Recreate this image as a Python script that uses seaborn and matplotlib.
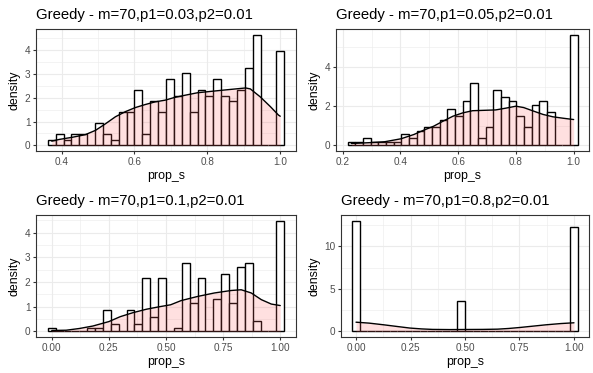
import numpy as np
import pandas as pd
import matplotlib
matplotlib.use("Agg")
import matplotlib.pyplot as plt
import seaborn as sns
from matplotlib.ticker import FixedLocator, MultipleLocator

sns.set_theme(style="white")
plt.rcParams['font.family'] = ['Liberation Sans', 'DejaVu Sans']

# ---------------- data ----------------
titles = ["Greedy - m=70,p1=0.03,p2=0.01", "Greedy - m=70,p1=0.05,p2=0.01",
          "Greedy - m=70,p1=0.1,p2=0.01", "Greedy - m=70,p1=0.8,p2=0.01"]

# observed range of prop_s in each panel (histogram uses 30 bins over it)
ranges = [(0.373, 1.0), (0.230, 1.0), (0.0, 1.0), (0.0, 1.0)]
n_bins = 30

# histogram bar heights (density), 30 bins each
hist1 = [0.23, 0.46, 0.23, 0.46, 0.46, 0.0, 0.93, 0.46, 0.23, 1.39,
         1.39, 2.31, 0.46, 1.85, 1.39, 2.78, 2.08, 3.01, 1.39, 2.31,
         2.08, 2.78, 2.08, 1.85, 2.31, 3.24, 4.63, 0.0, 0.0, 3.93]
hist2 = [0.19, 0.19, 0.38, 0.19, 0.19, 0.19, 0.19, 0.56, 0.38, 0.75,
         0.94, 0.94, 1.32, 1.88, 1.51, 2.26, 3.20, 0.38, 0.94, 2.82,
         2.45, 2.26, 1.51, 0.94, 2.07, 2.26, 1.69, 0.0, 0.0, 5.65]
hist3 = [0.145, 0.0, 0.0, 0.0, 0.0, 0.145, 0.145, 0.87, 0.29, 0.0,
         0.87, 0.29, 2.175, 0.58, 2.175, 0.0, 0.145, 2.755, 1.16, 2.175,
         0.0, 1.305, 2.32, 1.16, 2.61, 2.755, 0.435, 0.0, 0.0, 4.495]
hist4 = [13.05, 0, 0, 0, 0, 0, 0, 0, 0, 0,
         0, 0, 0, 0, 3.625, 0, 0, 0, 0, 0,
         0, 0, 0, 0, 0, 0, 0, 0, 0, 12.33]

# kernel density curves (x, density)
kde1_x = [0.373, 0.393, 0.429, 0.465, 0.493, 0.52, 0.548, 0.575, 0.602, 0.63, 0.657,
          0.684, 0.709, 0.74, 0.773, 0.818, 0.864, 0.905, 0.918, 0.945, 0.973, 0.995, 1.0]
kde1_y = [0.18, 0.25, 0.34, 0.45, 0.63, 0.9, 1.2, 1.41, 1.58, 1.71, 1.82,
          1.89, 2.0, 2.1, 2.2, 2.27, 2.34, 2.4, 2.36, 2.03, 1.62, 1.27, 1.22]
kde2_x = [0.23, 0.29, 0.346, 0.402, 0.447, 0.481, 0.515, 0.548, 0.582, 0.616, 0.65,
          0.69, 0.73, 0.765, 0.8, 0.827, 0.861, 0.894, 0.928, 0.962, 1.0]
kde2_y = [0.1, 0.14, 0.19, 0.34, 0.56, 0.78, 0.98, 1.24, 1.49, 1.66, 1.77,
          1.79, 1.81, 1.9, 2.0, 1.93, 1.75, 1.58, 1.46, 1.39, 1.32]
kde3_x = [0.0, 0.063, 0.121, 0.18, 0.25, 0.3, 0.355, 0.414, 0.47, 0.52, 0.566,
          0.639, 0.712, 0.785, 0.829, 0.873, 0.917, 0.961, 1.0]
kde3_y = [0.04, 0.05, 0.12, 0.22, 0.4, 0.6, 0.76, 0.9, 1.0, 1.08, 1.25,
          1.42, 1.56, 1.66, 1.69, 1.56, 1.29, 1.11, 1.05]
kde4_x = [0.0, 0.06, 0.128, 0.19, 0.247, 0.3, 0.351, 0.43, 0.5, 0.58, 0.649,
          0.7, 0.753, 0.81, 0.871, 0.94, 1.0]
kde4_y = [1.09, 0.98, 0.78, 0.58, 0.4, 0.3, 0.24, 0.22, 0.23, 0.24, 0.27,
          0.35, 0.47, 0.62, 0.78, 0.93, 1.02]

# tick labels
xticks = [[0.4, 0.6, 0.8, 1.0], [0.2, 0.4, 0.6, 0.8, 1.0],
          [0.0, 0.25, 0.5, 0.75, 1.0], [0.0, 0.25, 0.5, 0.75, 1.0]]
xticklabels = [["0.4", "0.6", "0.8", "1.0"], ["0.2", "0.4", "0.6", "0.8", "1.0"],
               ["0.00", "0.25", "0.50", "0.75", "1.00"], ["0.00", "0.25", "0.50", "0.75", "1.00"]]
yticks = [[0, 1, 2, 3, 4], [0, 2, 4], [0, 1, 2, 3, 4], [0, 5, 10]]
x_label = "prop_s"
y_label = "density"

hists = [hist1, hist2, hist3, hist4]
kdes = [(kde1_x, kde1_y), (kde2_x, kde2_y), (kde3_x, kde3_y), (kde4_x, kde4_y)]

# ---------------- layout ----------------
W, H = 593, 373
fig = plt.figure(figsize=(W / 100, H / 100), dpi=100)
fig.patch.set_facecolor("white")

def rect(l, t, r, b):
    return [l / W, 1 - b / H, (r - l) / W, (b - t) / H]

panel_px = [(36, 29, 296, 151), (336, 29, 589, 151),
            (36, 215, 296, 337), (341, 215, 589, 337)]

GRID = "#EBEBEB"
DARK = "#333333"
TXT = "#4D4D4D"

for i in range(4):
    ax = fig.add_axes(rect(*panel_px[i]))
    lo, hi = ranges[i]
    w = (hi - lo) / (n_bins - 1)
    edges = [float(lo - w / 2 + w * k) for k in range(n_bins + 1)]
    centers = [(edges[k] + edges[k + 1]) / 2 for k in range(n_bins)]
    df = pd.DataFrame({"prop_s": centers, "density": hists[i]})

    sns.histplot(data=df, x="prop_s", weights="density", bins=edges, stat="count",
                 ax=ax, color="white", edgecolor="black", linewidth=1.0, alpha=1.0,
                 zorder=2)
    kx, ky = kdes[i]
    kd = pd.DataFrame({"prop_s": kx, "density": ky})
    ax.fill_between(kd["prop_s"], kd["density"], 0, color="#FF6666", alpha=0.2,
                    linewidth=0, zorder=3)
    sns.lineplot(data=kd, x="prop_s", y="density", ax=ax, color="black",
                 linewidth=1.0, zorder=4)

    # ggplot-like expansion
    xr = edges[-1] - edges[0]
    ax.set_xlim(edges[0] - 0.05 * xr, edges[-1] + 0.05 * xr)
    ymax = max(hists[i])
    ax.set_ylim(-0.05 * ymax, 1.05 * ymax)

    ax.xaxis.set_major_locator(FixedLocator(xticks[i]))
    ax.set_xticklabels(xticklabels[i])
    ax.yaxis.set_major_locator(FixedLocator(yticks[i]))
    ax.set_yticklabels([str(v) for v in yticks[i]])
    xs = xticks[i][1] - xticks[i][0]
    ys = yticks[i][1] - yticks[i][0]
    ax.xaxis.set_minor_locator(MultipleLocator(xs / 2))
    ax.yaxis.set_minor_locator(MultipleLocator(ys / 2))

    ax.set_facecolor("white")
    ax.grid(True, which="major", color=GRID, linewidth=0.8, zorder=0)
    ax.grid(True, which="minor", color=GRID, linewidth=0.4, zorder=0)
    ax.set_axisbelow(True)
    for s in ax.spines.values():
        s.set_color(DARK)
        s.set_linewidth(0.8)
        s.set_visible(True)
    ax.tick_params(which="major", length=2.2, width=0.8, color=DARK,
                   labelsize=7.2, labelcolor=TXT, pad=1.8, bottom=True, left=True)
    ax.tick_params(which="minor", length=0, bottom=False, left=False)

    ax.set_xlabel(x_label, fontsize=8.9, color="black", labelpad=2.5)
    ax.set_ylabel(y_label, fontsize=8.9, color="black", labelpad=3)
    ax.set_title(titles[i], loc="left", fontsize=10.75, color="black", pad=7.5)

fig.savefig("out.png", dpi=100, facecolor="white")
